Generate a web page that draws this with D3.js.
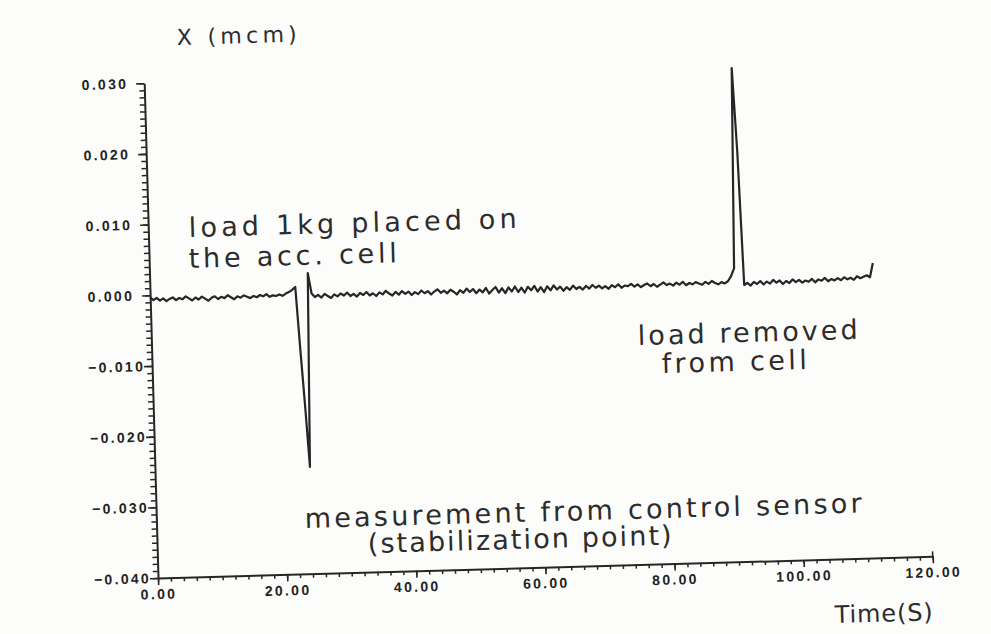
<!DOCTYPE html>
<html>
<head>
<meta charset="utf-8">
<script src="https://cdn.jsdelivr.net/npm/d3@7"></script>
<style>
  body { margin: 0; background: #fcfcfb; }
  svg { display: block; }
  .axis path, .axis line { stroke: #262626; }
  .axis text { font-family: "Liberation Sans", Arial, sans-serif; font-weight: bold; font-size: 14px; letter-spacing: 2.3px; fill: #222; }
  .note { font-family: "DejaVu Sans", sans-serif; fill: #2c2c2c; }
</style>
</head>
<body>
<div id="chart"></div>
<script>
// samples every 0.5 s, X in mcm
var sampleStep = 0.5

// 0 .. 22.5 s, before the load
var quietBefore = [
  -0.0003, -0.0007, -0.0004, -0.0008, -0.0005, -0.0009, -0.0006, -0.0004, -0.0008, -0.0005,
  -0.0007, -0.0003, -0.0006, -0.0009, -0.0005, -0.0008, -0.0004, -0.0007, -0.0010, -0.0006,
  -0.0004, -0.0008, -0.0005, -0.0007, -0.0003, -0.0006, -0.0009, -0.0005, -0.0007, -0.0004,
  -0.0006, -0.0008, -0.0005, -0.0007, -0.0004, -0.0006, -0.0003, -0.0007, -0.0005, -0.0006,
  -0.0004, -0.0006, -0.0003, -0.0001, 0.0002, 0.0006
]
// 23 .. 24.5 s, 1 kg placed
var loadOnSpike = [-0.0080, -0.0160, -0.0249, 0.0025]
// 25 .. 90.5 s, cell loaded
var loadedLevel = [
  -0.0004, -0.0009, -0.0006, -0.0010, -0.0005, -0.0008, -0.0011, -0.0006, -0.0009, -0.0005,
  -0.0008, -0.0004, -0.0009, -0.0006, -0.0010, -0.0005, -0.0008, -0.0004, -0.0009, -0.0006,
  -0.0010, -0.0005, -0.0008, -0.0003, -0.0007, -0.0010, -0.0005, -0.0009, -0.0004, -0.0008,
  -0.0005, -0.0010, -0.0006, -0.0009, -0.0004, -0.0008, -0.0005, -0.0010, -0.0006, -0.0003,
  -0.0008, -0.0005, -0.0009, -0.0004, -0.0007, -0.0011, -0.0005, -0.0009, -0.0003, -0.0008,
  -0.0004, -0.0010, -0.0005, -0.0009, -0.0003, -0.0011, -0.0006, -0.0002, -0.0010, -0.0004,
  -0.0011, -0.0003, -0.0009, -0.0002, -0.0010, -0.0004, -0.0011, -0.0003, -0.0008, -0.0002,
  -0.0010, -0.0004, -0.0011, -0.0003, -0.0009, -0.0002, -0.0008, -0.0004, -0.0010, -0.0005,
  -0.0009, -0.0003, -0.0008, -0.0005, -0.0009, -0.0004, -0.0008, -0.0003, -0.0007, -0.0004,
  -0.0008, -0.0005, -0.0009, -0.0004, -0.0007, -0.0003, -0.0008, -0.0005, -0.0006, -0.0003,
  -0.0007, -0.0004, -0.0008, -0.0005, -0.0003, -0.0007, -0.0004, -0.0008, -0.0005, -0.0002,
  -0.0006, -0.0004, -0.0007, -0.0003, -0.0006, -0.0002, -0.0007, -0.0004, -0.0006, -0.0003,
  -0.0005, -0.0007, -0.0003, -0.0006, -0.0002, -0.0005, -0.0007, -0.0004, -0.0006, -0.0003,
  0.0004, 0.0015
]
// 91 .. 91.5 s, load removed
var loadOffSpike = [0.0298, 0.0180]
// 92 .. 112 s
var quietAfter = [
  -0.0009, -0.0006, -0.0010, -0.0005, -0.0008, -0.0004, -0.0009, -0.0005, -0.0008, -0.0003,
  -0.0007, -0.0004, -0.0009, -0.0005, -0.0008, -0.0003, -0.0007, -0.0004, -0.0008, -0.0005,
  -0.0007, -0.0003, -0.0008, -0.0004, -0.0006, -0.0002, -0.0007, -0.0004, -0.0006, -0.0003,
  -0.0006, -0.0002, -0.0005, -0.0003, -0.0006, -0.0001, -0.0004, -0.0002, 0.0000, -0.0003,
  0.0017
]

var xTickValues = [0, 20, 40, 60, 80, 100, 120]
var yTickValues = [-0.04, -0.03, -0.02, -0.01, 0, 0.01, 0.02, 0.03]

var notes = [
  {text: "X (mcm)", px: 177, py: 45, size: 22, len: 120},
  {text: "load 1kg placed on", px: 189, py: 237, size: 27, len: 328},
  {text: "the acc. cell", px: 189, py: 268, size: 27, len: 208},
  {text: "load removed", px: 638, py: 345, size: 27, len: 220},
  {text: "from cell", px: 662, py: 373, size: 27, len: 145},
  {text: "measurement from control sensor", px: 305, py: 528, size: 27, len: 557},
  {text: "(stabilization point)", px: 368, py: 553, size: 27, len: 304},
  {text: "Time(S)", px: 835, py: 623, size: 24, len: 98}
]

var series = quietBefore.concat(loadOnSpike, loadedLevel, loadOffSpike, quietAfter)
var trace = series.map(function (v, i) { return {t: i * sampleStep, x: v} })

var margin = {top: 83, left: 158},
    width = 775,
    height = 495;

// the scanned page sits a little crooked
var tilt = -1.6
var pivot = [margin.left, margin.top + height]

var svg = d3.select("#chart").append("svg")
    .attr("width", 991)
    .attr("height", 634)

var g = svg.append("g")
    .attr("transform", "rotate(" + tilt + "," + pivot + ") translate(" + margin.left + "," + margin.top + ")")

var x = d3.scaleLinear().domain([0, 120]).range([0, width])
var y = d3.scaleLinear().domain([-0.04, 0.03]).range([height, 0])

// minor ticks first, then the labelled ones
g.append("g")
    .attr("class", "axis")
    .attr("transform", "translate(0," + height + ")")
    .call(d3.axisBottom(x).ticks(60).tickSize(4).tickSizeOuter(0).tickFormat(""))
    .call(function (a) { a.select(".domain").remove() })
    .selectAll("line").attr("stroke-width", 1.5)

var xAxis = g.append("g")
    .attr("class", "axis")
    .attr("transform", "translate(0," + height + ")")
    .call(d3.axisBottom(x).tickValues(xTickValues).tickSize(7).tickSizeOuter(0).tickPadding(4).tickFormat(d3.format(".2f")))
xAxis.select(".domain").attr("stroke-width", 2)
xAxis.selectAll(".tick line").attr("stroke-width", 1.6)
xAxis.append("line")
    .attr("x1", width).attr("x2", width)
    .attr("y1", 0).attr("y2", -5)
    .attr("stroke", "#262626").attr("stroke-width", 1.6)

g.append("g")
    .attr("class", "axis")
    .call(d3.axisLeft(y).ticks(70).tickSize(5).tickSizeOuter(0).tickFormat(""))
    .call(function (a) { a.select(".domain").remove() })
    .selectAll("line").attr("stroke-width", 1.5)

var yAxis = g.append("g")
    .attr("class", "axis")
    .call(d3.axisLeft(y).tickValues(yTickValues).tickSize(8).tickSizeOuter(0).tickFormat(d3.format(".3f")))
yAxis.select(".domain").attr("stroke-width", 2)
yAxis.selectAll(".tick line").attr("stroke-width", 1.6)
yAxis.selectAll(".tick text")
    .attr("x", function (d) { return d < 0 ? -7 : -16 })

var line = d3.line()
    .x(function (d) { return x(d.t) })
    .y(function (d) { return y(d.x) })

g.append("path")
    .datum(trace)
    .attr("fill", "none")
    .attr("stroke", "#262626")
    .attr("stroke-width", 2.2)
    .attr("stroke-linejoin", "round")
    .attr("d", line)

// page position -> position inside the tilted group
function place(px, py) {
  var a = -tilt * Math.PI / 180
  var dx = px - pivot[0], dy = py - pivot[1]
  return [pivot[0] + dx * Math.cos(a) - dy * Math.sin(a) - margin.left,
          pivot[1] + dx * Math.sin(a) + dy * Math.cos(a) - margin.top]
}

g.selectAll(".note")
    .data(notes)
    .enter()
    .append("text")
    .attr("class", "note")
    .attr("x", function (d) { return place(d.px, d.py)[0] })
    .attr("y", function (d) { return place(d.px, d.py)[1] })
    .attr("font-size", function (d) { return d.size })
    .attr("textLength", function (d) { return d.len })
    .attr("lengthAdjust", "spacing")
    .text(function (d) { return d.text })
</script>
</body>
</html>
